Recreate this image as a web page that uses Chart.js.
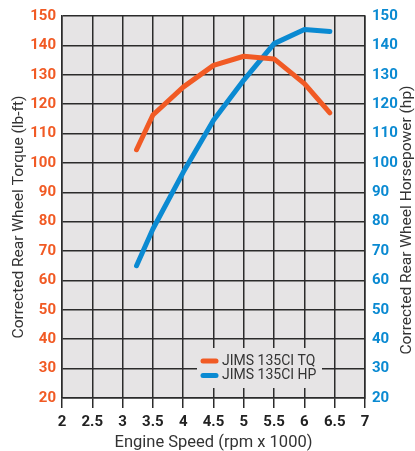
<!DOCTYPE html>
<html>
<head>
<meta charset="utf-8">
<script src="https://cdn.jsdelivr.net/npm/chart.js@4/dist/chart.umd.min.js"></script>
<style>
  html, body { margin: 0; padding: 0; background: #fff; }
  canvas { display: block; }
</style>
</head>
<body>
<canvas id="dynoChart" width="415" height="451"></canvas>
<script>
// Dyno sheet: torque (left axis) and horsepower (right axis) against engine speed
const rpm = [3.23, 3.5, 4, 4.5, 5, 5.5, 6, 6.42];
const torque = [104.5, 116.3, 125.8, 133.2, 136.3, 135.4, 127, 117];
const horsepower = [65, 77.5, 96.8, 114.5, 128.2, 140.6, 145.4, 144.7];
const seriesNames = ['JIMS 135CI TQ', 'JIMS 135CI HP'];
const xTitle = 'Engine Speed (rpm x 1000)';
const leftTitle = 'Corrected Rear Wheel Torque (lb-ft)';
const rightTitle = 'Corrected Rear Wheel Horsepower (hp)';

const ORANGE = '#f15a24';
const BLUE = '#0a8ad2';
const GRID = '#2b2b2b';
const PLOT_BG = '#e6e4e5';
const FONT = "Roboto, sans-serif";

function toPoints(xs, ys) {
    return xs.map((x, i) => ({ x: x, y: ys[i] }));
}

// grey plot background
const plotBackground = {
    id: 'plotBackground',
    beforeDraw(chart) {
        const { ctx, chartArea: a } = chart;
        ctx.save();
        ctx.fillStyle = PLOT_BG;
        ctx.fillRect(a.left, a.top, a.right - a.left, a.bottom - a.top);
        ctx.restore();
    }
};

// both vertical titles read bottom to top
const sideTitles = {
    id: 'sideTitles',
    afterDraw(chart) {
        const ctx = chart.ctx;
        ctx.save();
        ctx.fillStyle = '#333';
        ctx.font = '15.5px ' + FONT;
        ctx.textAlign = 'center';
        ctx.textBaseline = 'middle';
        [[19, 217, leftTitle], [407, 220, rightTitle]].forEach(([x, y, txt]) => {
            ctx.save();
            ctx.translate(x, y);
            ctx.rotate(-Math.PI / 2);
            ctx.fillText(txt, 0, 0);
            ctx.restore();
        });
        ctx.restore();
    }
};

// legend box sitting inside the plot, hiding the grid behind it
const insideLegend = {
    id: 'insideLegend',
    afterDraw(chart) {
        const ctx = chart.ctx;
        const x = 197, y = 348, w = 125, h = 40;
        ctx.save();
        ctx.fillStyle = PLOT_BG;
        ctx.fillRect(x, y, w, h);
        ctx.font = '14px ' + FONT;
        ctx.textBaseline = 'middle';
        ctx.lineCap = 'round';
        ctx.lineWidth = 5;
        chart.data.datasets.forEach((ds, i) => {
            const ly = 361 + i * 14.5;
            ctx.strokeStyle = ds.borderColor;
            ctx.beginPath();
            ctx.moveTo(203, ly);
            ctx.lineTo(216, ly);
            ctx.stroke();
            ctx.fillStyle = '#333';
            ctx.fillText(ds.label, 222, ly);
        });
        ctx.restore();
    }
};

const tickFont = { family: FONT, size: 15, weight: 'bold' };

new Chart(document.getElementById('dynoChart'), {
    type: 'line',
    data: {
        datasets: [{
            label: seriesNames[0],
            data: toPoints(rpm, torque),
            borderColor: ORANGE,
            borderWidth: 5,
            borderCapStyle: 'round',
            borderJoinStyle: 'round',
            pointRadius: 0,
            tension: 0,
            yAxisID: 'yTorque'
        }, {
            label: seriesNames[1],
            data: toPoints(rpm, horsepower),
            borderColor: BLUE,
            borderWidth: 5,
            borderCapStyle: 'round',
            borderJoinStyle: 'round',
            pointRadius: 0,
            tension: 0,
            yAxisID: 'yPower'
        }]
    },
    options: {
        responsive: false,
        devicePixelRatio: 1,
        animation: false,
        layout: { padding: { top: 14, left: 0, right: 0, bottom: 0 } },
        plugins: {
            legend: { display: false },
            tooltip: { enabled: false }
        },
        scales: {
            x: {
                type: 'linear',
                min: 2,
                max: 7,
                afterFit(scale) { scale.height = 53; },
                ticks: {
                    stepSize: 0.5,
                    padding: 5,
                    color: '#222',
                    font: tickFont,
                    maxRotation: 0,
                    callback: v => String(Number(v))
                },
                grid: { color: GRID, lineWidth: 1.5, tickLength: 10 },
                border: { color: GRID, width: 1.5 },
                title: {
                    display: true,
                    text: xTitle,
                    color: '#333',
                    font: { family: FONT, size: 16.5 },
                    padding: { top: 0, bottom: -2 }
                }
            },
            yTorque: {
                position: 'left',
                min: 20,
                max: 150,
                afterFit(scale) { scale.width = 62; },
                ticks: {
                    stepSize: 10,
                    padding: 6,
                    color: ORANGE,
                    font: tickFont
                },
                grid: { color: GRID, lineWidth: 1.5, drawTicks: false },
                border: { color: GRID, width: 1.5 }
            },
            yPower: {
                position: 'right',
                min: 20,
                max: 150,
                afterFit(scale) { scale.width = 50; },
                ticks: {
                    stepSize: 10,
                    padding: 7,
                    color: BLUE,
                    font: tickFont
                },
                grid: { display: false, drawTicks: false },
                border: { color: GRID, width: 1.5 }
            }
        }
    },
    plugins: [plotBackground, sideTitles, insideLegend]
});
</script>
</body>
</html>
